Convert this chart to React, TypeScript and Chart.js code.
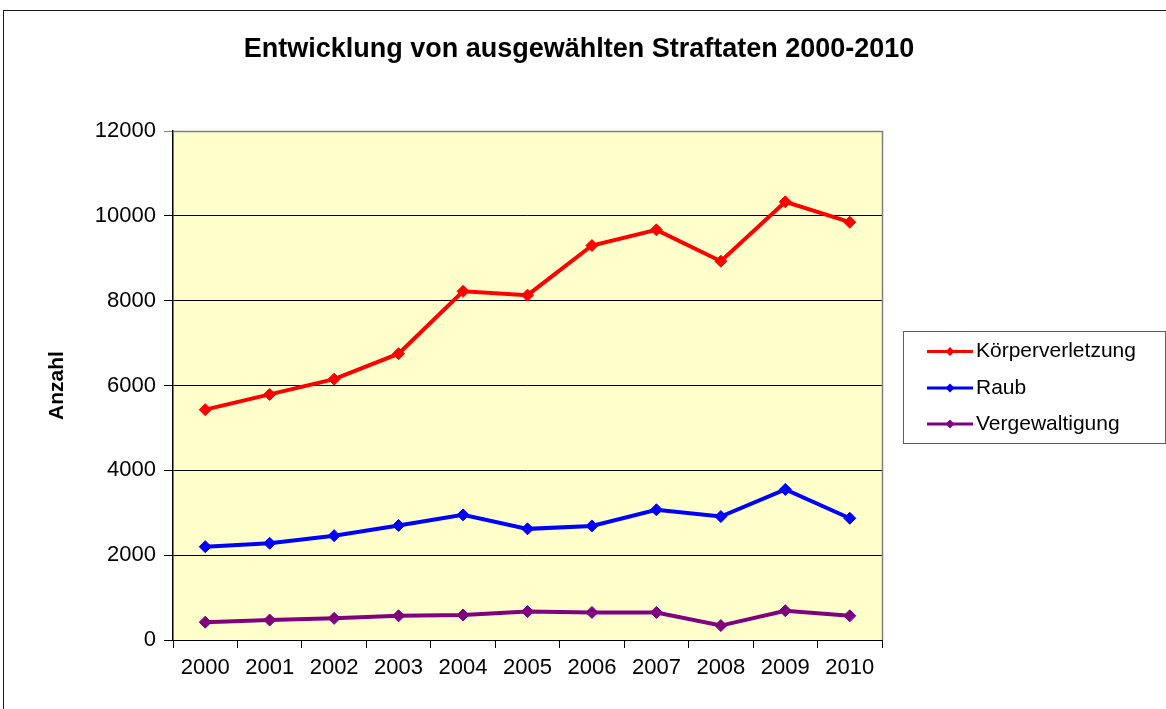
import React, { useEffect, useRef } from "react";
import { Chart, registerables } from "chart.js";

Chart.register(...registerables);

const years = ["2000", "2001", "2002", "2003", "2004", "2005", "2006", "2007", "2008", "2009", "2010"];
const koerperverletzung = [5430, 5790, 6150, 6750, 8220, 8130, 9300, 9670, 8930, 10330, 9850];
const raub = [2200, 2280, 2460, 2700, 2950, 2620, 2690, 3070, 2910, 3550, 2870];
const vergewaltigung = [420, 470, 510, 570, 590, 670, 650, 650, 340, 690, 570];
const seriesNames = ["Körperverletzung", "Raub", "Vergewaltigung"];
const seriesColors = ["#FF0000", "#0000FF", "#800080"];
const yMin = 0;
const yMax = 12000;
const yStep = 2000;
const chartTitle = "Entwicklung von ausgewählten Straftaten 2000-2010";
const yAxisTitle = "Anzahl";

const FONT = "'Liberation Sans', Arial, Helvetica, sans-serif";

const framePlugin = {
  id: "frame",
  beforeDraw(chart: any) {
    const { ctx, chartArea, width, height } = chart;
    ctx.save();
    ctx.fillStyle = "#FFFFFF";
    ctx.fillRect(0, 0, width, height);
    ctx.strokeStyle = "#1a1a1a";
    ctx.lineWidth = 1;
    ctx.strokeRect(3.5, 10.5, width + 20, height + 20);
    ctx.fillStyle = "#FFFFCC";
    ctx.fillRect(chartArea.left, chartArea.top, chartArea.right - chartArea.left, chartArea.bottom - chartArea.top);
    ctx.restore();
  },
  beforeDatasetsDraw(chart: any) {
    const { ctx, chartArea } = chart;
    ctx.save();
    ctx.strokeStyle = "#808080";
    ctx.lineWidth = 1.5;
    ctx.beginPath();
    ctx.moveTo(chartArea.left, chartArea.top + 0.5);
    ctx.lineTo(chartArea.right + 0.5, chartArea.top + 0.5);
    ctx.lineTo(chartArea.right + 0.5, chartArea.bottom);
    ctx.stroke();
    ctx.restore();
  },
  afterLayout(chart: any) {
    const t = chart.titleBlock;
    if (t) {
      t.left = 0;
      t.right = 1158;
      t.width = 1158;
    }
  },
};

const legendPlugin = {
  id: "customLegend",
  afterDraw(chart: any) {
    const { ctx } = chart;
    const boxL = 903.5;
    const boxT = 331.5;
    const boxR = 1165.5;
    const boxB = 443.5;
    ctx.save();
    ctx.fillStyle = "#FFFFFF";
    ctx.fillRect(boxL, boxT, boxR - boxL, boxB - boxT);
    ctx.strokeStyle = "#606060";
    ctx.lineWidth = 1;
    ctx.strokeRect(boxL, boxT, boxR - boxL, boxB - boxT);
    const rows = [351.5, 388, 424];
    chart.data.datasets.forEach((ds: any, i: number) => {
      const y = rows[i];
      ctx.strokeStyle = ds.borderColor;
      ctx.lineWidth = 3;
      ctx.beginPath();
      ctx.moveTo(927, y);
      ctx.lineTo(973, y);
      ctx.stroke();
      ctx.fillStyle = ds.borderColor;
      ctx.beginPath();
      const r = 4.5;
      ctx.moveTo(950 - r, y);
      ctx.lineTo(950, y - r);
      ctx.lineTo(950 + r, y);
      ctx.lineTo(950, y + r);
      ctx.closePath();
      ctx.fill();
      ctx.fillStyle = "#000000";
      ctx.font = `21px ${FONT}`;
      ctx.textAlign = "left";
      ctx.textBaseline = "middle";
      ctx.fillText(ds.label, 976, y);
    });
    ctx.restore();
  },
};

export default function App() {
  const canvasRef = useRef<HTMLCanvasElement | null>(null);

  useEffect(() => {
    const canvas = canvasRef.current;
    if (!canvas) return;
    const seriesValues = [koerperverletzung, raub, vergewaltigung];
    const chart = new Chart(canvas, {
      type: "line",
      data: {
        labels: years,
        datasets: seriesValues.map((vals, i) => ({
          label: seriesNames[i],
          data: vals,
          borderColor: seriesColors[i],
          backgroundColor: seriesColors[i],
          pointBackgroundColor: seriesColors[i],
          pointBorderColor: seriesColors[i],
          borderWidth: 4,
          pointStyle: "rectRot",
          pointRadius: 6,
          pointBorderWidth: 1,
          tension: 0,
          fill: false,
        })),
      },
      options: {
        responsive: false,
        animation: false,
        devicePixelRatio: 1,
        layout: { padding: { top: 0, left: 0, right: 284, bottom: 0 } },
        plugins: {
          legend: { display: false },
          tooltip: { enabled: false },
          title: {
            display: true,
            text: chartTitle,
            color: "#000000",
            font: { family: FONT, size: 27, weight: "bold" },
            padding: { top: 33, bottom: 65.6 },
          },
        },
        scales: {
          x: {
            type: "category",
            offset: true,
            grid: {
              display: true,
              offset: true,
              drawOnChartArea: false,
              drawTicks: true,
              tickLength: 8,
              color: "#000000",
              lineWidth: 1,
            },
            border: { display: true, color: "#000000", width: 1 },
            ticks: {
              color: "#000000",
              font: { family: FONT, size: 22 },
              padding: 7,
              maxRotation: 0,
              autoSkip: false,
            },
            afterFit: (scale: any) => {
              scale.height = 69;
            },
          },
          y: {
            min: yMin,
            max: yMax,
            grid: {
              display: true,
              drawTicks: true,
              tickLength: 9,
              color: (c: any) => (c.tick && c.tick.value === yMax ? "#808080" : "#000000"),
              lineWidth: 1,
            },
            border: { display: true, color: "#000000", width: 1.5 },
            ticks: {
              stepSize: yStep,
              color: "#000000",
              font: { family: FONT, size: 22 },
              padding: 8,
              callback: (value: any) => String(value),
            },
            title: {
              display: true,
              text: yAxisTitle,
              color: "#000000",
              font: { family: FONT, size: 21, weight: "bold" },
              padding: { top: 45, bottom: 0 },
            },
            afterFit: (scale: any) => {
              scale.width = 173;
            },
          },
        },
      },
      plugins: [framePlugin, legendPlugin],
    });
    return () => chart.destroy();
  }, []);

  return (
    <div style={{ position: "fixed", left: 0, top: 0, width: 1166, height: 709, background: "#fff" }}>
      <canvas ref={canvasRef} width={1166} height={709} style={{ display: "block", width: 1166, height: 709 }} />
    </div>
  );
}
